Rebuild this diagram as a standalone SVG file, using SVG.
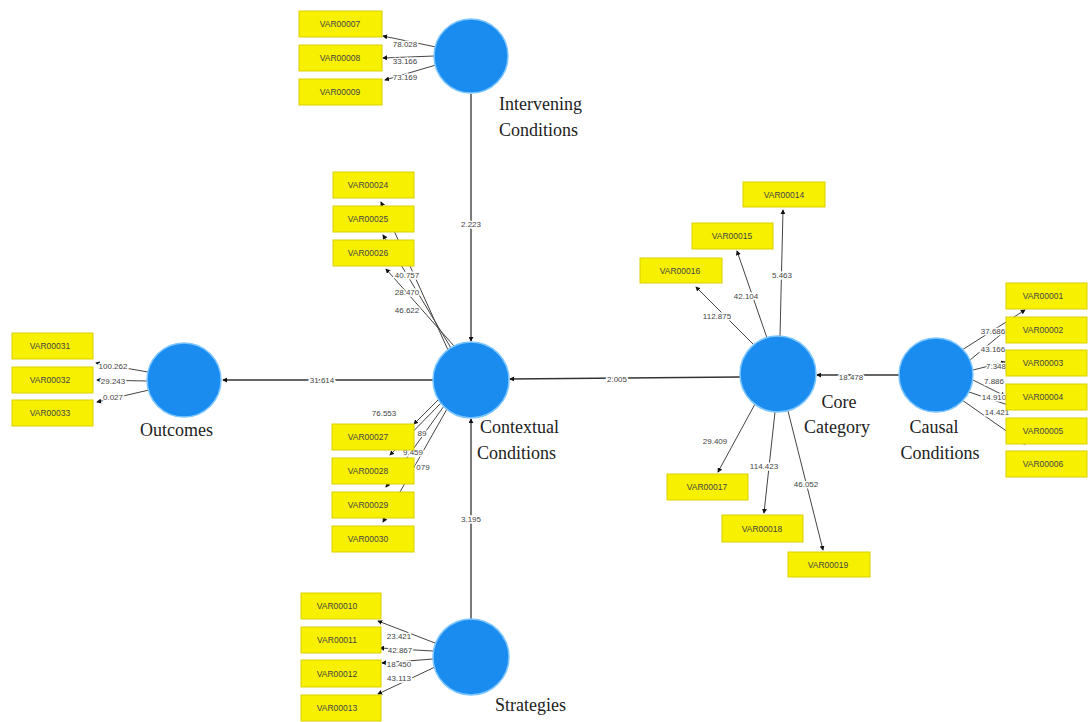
<svg xmlns="http://www.w3.org/2000/svg" width="1089" height="722" viewBox="0 0 1089 722">
<defs>
<marker id="arr" viewBox="0 0 6 6" refX="5" refY="3" markerWidth="5" markerHeight="5" orient="auto" markerUnits="userSpaceOnUse">
<path d="M0,0 L6,3 L0,6 z" fill="#111"/>
</marker>
<style>
.box{fill:#f7f000;stroke:#d9d200;stroke-width:1}
.bt{font-family:"Liberation Sans",Arial,sans-serif;font-size:8.5px;fill:#444;text-anchor:middle;dominant-baseline:central}
.lv{font-family:"Liberation Sans",Arial,sans-serif;font-size:8px;fill:#444;text-anchor:middle;dominant-baseline:central;paint-order:stroke;stroke:#fff;stroke-width:3px}
.cir{fill:#1a8cf0;stroke:#7cc6ff;stroke-width:1.5}
.nl{font-family:"Liberation Serif","Times New Roman",serif;font-size:18px;fill:#222}
.c{stroke:#333;stroke-width:1.3;fill:none;marker-end:url(#arr)}
.ci{stroke:#444;stroke-width:1;fill:none;marker-end:url(#arr)}
</style>
</defs>
<rect width="1089" height="722" fill="#fff"/>

<g id="connectors">
<!-- structural -->
<line class="c" x1="471" y1="94" x2="471" y2="341"/>
<line class="c" x1="433" y1="380" x2="223" y2="380"/>
<line class="c" x1="740" y1="377" x2="510" y2="379"/>
<line class="c" x1="899" y1="375" x2="817" y2="375"/>
<line class="c" x1="471" y1="619" x2="471" y2="419"/>
<!-- intervening indicators -->
<line class="ci" x1="436" y1="47" x2="383" y2="36"/>
<line class="ci" x1="434" y1="56" x2="383" y2="58"/>
<line class="ci" x1="436" y1="65" x2="385" y2="80"/>
<!-- contextual upper -->
<line class="ci" x1="448" y1="350" x2="381" y2="202"/>
<line class="ci" x1="451" y1="348" x2="383" y2="235"/>
<line class="ci" x1="454" y1="346" x2="386" y2="269"/>
<!-- contextual lower -->
<line class="ci" x1="441" y1="403" x2="390" y2="455"/>
<line class="ci" x1="444" y1="406" x2="386" y2="487"/>
<line class="ci" x1="447" y1="409" x2="383" y2="522"/>
<line class="ci" x1="438" y1="400" x2="414" y2="424"/>
<!-- outcomes -->
<line class="ci" x1="148" y1="372" x2="96" y2="363"/>
<line class="ci" x1="147" y1="381" x2="97" y2="380"/>
<line class="ci" x1="149" y1="390" x2="97" y2="402"/>
<!-- strategies -->
<line class="ci" x1="435" y1="643" x2="378" y2="621"/>
<line class="ci" x1="433" y1="651" x2="380" y2="648"/>
<line class="ci" x1="433" y1="659" x2="382" y2="663"/>
<line class="ci" x1="435" y1="667" x2="378" y2="694"/>
<!-- core -->
<line class="ci" x1="780" y1="336" x2="783" y2="210"/>
<line class="ci" x1="767" y1="338" x2="737" y2="251"/>
<line class="ci" x1="754" y1="345" x2="696" y2="287"/>
<line class="ci" x1="755" y1="404" x2="718" y2="472"/>
<line class="ci" x1="775" y1="412" x2="764" y2="513"/>
<line class="ci" x1="788" y1="411" x2="823" y2="550"/>
<!-- causal -->
<line class="ci" x1="962" y1="350" x2="1025" y2="310"/>
<line class="ci" x1="970" y1="360" x2="1005" y2="331"/>
<line class="ci" x1="973" y1="370" x2="1005" y2="362"/>
<line class="ci" x1="973" y1="380" x2="1005" y2="396"/>
<line class="ci" x1="969" y1="392" x2="1020" y2="409"/>
<line class="ci" x1="962" y1="400" x2="1025" y2="444"/>
<!-- loading labels -->
<text class="lv" x="471" y="224">2.223</text>
<text class="lv" x="322" y="380">31.614</text>
<text class="lv" x="617" y="379">2.005</text>
<text class="lv" x="851" y="377">18.478</text>
<text class="lv" x="471" y="519">3.195</text>
<text class="lv" x="405" y="44">78.028</text>
<text class="lv" x="405" y="61">33.166</text>
<text class="lv" x="405" y="77">73.169</text>
<text class="lv" x="407" y="275">40.757</text>
<text class="lv" x="407" y="292">28.470</text>
<text class="lv" x="407" y="310">46.622</text>
<text class="lv" x="384" y="413">76.553</text>
<text class="lv" x="422" y="433">89</text>
<text class="lv" x="413" y="452">9.459</text>
<text class="lv" x="423" y="467">079</text>
<text class="lv" x="113" y="366">100.262</text>
<text class="lv" x="113" y="381">29.243</text>
<text class="lv" x="113" y="397">0.027</text>
<text class="lv" x="399" y="636">23.421</text>
<text class="lv" x="400" y="650">42.867</text>
<text class="lv" x="399" y="664">18.450</text>
<text class="lv" x="399" y="678">43.113</text>
<text class="lv" x="782" y="275">5.463</text>
<text class="lv" x="746" y="296">42.104</text>
<text class="lv" x="717" y="316">112.875</text>
<text class="lv" x="715" y="441">29.409</text>
<text class="lv" x="764" y="466">114.423</text>
<text class="lv" x="806" y="484">46.052</text>
<text class="lv" x="993" y="331">37.686</text>
<text class="lv" x="993" y="349">43.166</text>
<text class="lv" x="996" y="366">7.348</text>
<text class="lv" x="994" y="381">7.886</text>
<text class="lv" x="994" y="397">14.910</text>
<text class="lv" x="997" y="412">14.421</text>
</g>

<g id="intervening">
<circle class="cir" cx="471" cy="56" r="37"/>
<text class="nl" x="499" y="110">Intervening</text>
<text class="nl" x="499" y="136">Conditions</text>
</g>
<g id="contextual">
<circle class="cir" cx="471" cy="380" r="38"/>
<text class="nl" x="480" y="433">Contextual</text>
<text class="nl" x="477" y="459">Conditions</text>
</g>
<g id="outcomes">
<circle class="cir" cx="184" cy="380" r="37"/>
<text class="nl" x="140" y="436">Outcomes</text>
</g>
<g id="strategies">
<circle class="cir" cx="471" cy="657" r="38"/>
<text class="nl" x="495" y="711">Strategies</text>
</g>
<g id="core">
<circle class="cir" cx="778" cy="374" r="38"/>
<text class="nl" x="839" y="408" text-anchor="middle">Core</text>
<text class="nl" x="837" y="433" text-anchor="middle">Category</text>
</g>
<g id="causal">
<circle class="cir" cx="936" cy="375" r="37"/>
<text class="nl" x="934" y="433" text-anchor="middle">Causal</text>
<text class="nl" x="940" y="459" text-anchor="middle">Conditions</text>
</g>

<g id="VAR00007"><rect class="box" x="299" y="11" width="83" height="26"/><text class="bt" x="340" y="24">VAR00007</text></g>
<g id="VAR00008"><rect class="box" x="299" y="45" width="83" height="26"/><text class="bt" x="340" y="58">VAR00008</text></g>
<g id="VAR00009"><rect class="box" x="299" y="79" width="83" height="26"/><text class="bt" x="340" y="92">VAR00009</text></g>

<g id="VAR00024"><rect class="box" x="333" y="172" width="81" height="26"/><text class="bt" x="368" y="185">VAR00024</text></g>
<g id="VAR00025"><rect class="box" x="333" y="206" width="81" height="26"/><text class="bt" x="368" y="219">VAR00025</text></g>
<g id="VAR00026"><rect class="box" x="333" y="240" width="81" height="26"/><text class="bt" x="368" y="253">VAR00026</text></g>

<g id="VAR00027"><rect class="box" x="332" y="424" width="82" height="26"/><text class="bt" x="368" y="437">VAR00027</text></g>
<g id="VAR00028"><rect class="box" x="332" y="458" width="82" height="26"/><text class="bt" x="368" y="471">VAR00028</text></g>
<g id="VAR00029"><rect class="box" x="332" y="492" width="82" height="26"/><text class="bt" x="368" y="505">VAR00029</text></g>
<g id="VAR00030"><rect class="box" x="332" y="526" width="82" height="26"/><text class="bt" x="368" y="539">VAR00030</text></g>

<g id="VAR00031"><rect class="box" x="12" y="333" width="81" height="26"/><text class="bt" x="50" y="346">VAR00031</text></g>
<g id="VAR00032"><rect class="box" x="12" y="367" width="81" height="26"/><text class="bt" x="50" y="380">VAR00032</text></g>
<g id="VAR00033"><rect class="box" x="12" y="400" width="81" height="26"/><text class="bt" x="50" y="413">VAR00033</text></g>

<g id="VAR00010"><rect class="box" x="301" y="593" width="80" height="26"/><text class="bt" x="337" y="606">VAR00010</text></g>
<g id="VAR00011"><rect class="box" x="301" y="627" width="80" height="26"/><text class="bt" x="337" y="640">VAR00011</text></g>
<g id="VAR00012"><rect class="box" x="301" y="660" width="80" height="27"/><text class="bt" x="337" y="674">VAR00012</text></g>
<g id="VAR00013"><rect class="box" x="301" y="695" width="80" height="26"/><text class="bt" x="337" y="708">VAR00013</text></g>

<g id="VAR00014"><rect class="box" x="743" y="182" width="82" height="25"/><text class="bt" x="784" y="194.5">VAR00014</text></g>
<g id="VAR00015"><rect class="box" x="692" y="223" width="81" height="26"/><text class="bt" x="732" y="236">VAR00015</text></g>
<g id="VAR00016"><rect class="box" x="640" y="258" width="82" height="25"/><text class="bt" x="680" y="270.5">VAR00016</text></g>
<g id="VAR00017"><rect class="box" x="667" y="474" width="81" height="26"/><text class="bt" x="707" y="487">VAR00017</text></g>
<g id="VAR00018"><rect class="box" x="722" y="515" width="81" height="27"/><text class="bt" x="762" y="528.5">VAR00018</text></g>
<g id="VAR00019"><rect class="box" x="788" y="552" width="82" height="25"/><text class="bt" x="828" y="564.5">VAR00019</text></g>

<g id="VAR00001"><rect class="box" x="1006" y="283" width="81" height="26"/><text class="bt" x="1043" y="296">VAR00001</text></g>
<g id="VAR00002"><rect class="box" x="1006" y="317" width="81" height="26"/><text class="bt" x="1043" y="330">VAR00002</text></g>
<g id="VAR00003"><rect class="box" x="1006" y="350" width="81" height="26"/><text class="bt" x="1043" y="363">VAR00003</text></g>
<g id="VAR00004"><rect class="box" x="1006" y="384" width="81" height="26"/><text class="bt" x="1043" y="397">VAR00004</text></g>
<g id="VAR00005"><rect class="box" x="1006" y="418" width="81" height="26"/><text class="bt" x="1043" y="431">VAR00005</text></g>
<g id="VAR00006"><rect class="box" x="1006" y="451" width="81" height="26"/><text class="bt" x="1043" y="464">VAR00006</text></g>
</svg>
